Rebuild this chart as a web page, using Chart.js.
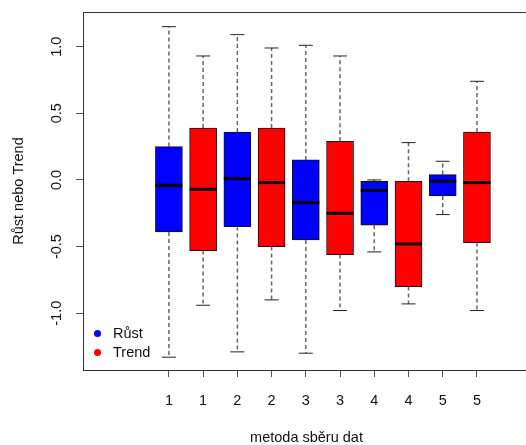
<!DOCTYPE html>
<html>
<head>
<meta charset="utf-8">
<script src="https://cdn.jsdelivr.net/npm/chart.js@4"></script>
<style>
    html, body { margin: 0; padding: 0; background: #fff; overflow: hidden; }
    #wrap { position: relative; width: 540px; height: 445px; }
    #legend { position: absolute; left: 90px; top: 324px; font: 14.5px 'Liberation Sans', Arial, sans-serif; color: #111; }
    #legend div { height: 19px; line-height: 19px; white-space: nowrap; }
    #legend span { display: inline-block; width: 7px; height: 7px; border-radius: 50%; margin: 0 12px 1px 4px; vertical-align: middle; }
</style>
</head>
<body>
<div id="wrap">
    <canvas id="boxChart" width="540" height="445"></canvas>
    <div id="legend"></div>
</div>
<script>
// box order: Růst / Trend for each method 1..5
const tickLabels = ['1', '1', '2', '2', '3', '3', '4', '4', '5', '5'];
const seriesNames = ['Růst', 'Trend'];
const seriesColors = ['#0000ff', '#ff0000'];

const whiskerLow  = [-1.33, -0.94, -1.29, -0.90, -1.30, -0.98, -0.54, -0.93, -0.26, -0.98];
const q1          = [-0.39, -0.53, -0.35, -0.50, -0.45, -0.56, -0.34, -0.80, -0.12, -0.47];
const medians     = [-0.04, -0.07,  0.01, -0.02, -0.17, -0.25, -0.08, -0.48, -0.01, -0.02];
const q3          = [ 0.25,  0.39,  0.36,  0.39,  0.15,  0.29, -0.01, -0.01,  0.04,  0.36];
const whiskerHigh = [ 1.15,  0.93,  1.09,  0.99,  1.01,  0.93,  0.00,  0.28,  0.14,  0.74];

const yTicks = [-1.0, -0.5, 0.0, 0.5, 1.0];

const positions = tickLabels.map((_, i) => i + 1);
const boxColors = positions.map((_, i) => seriesColors[i % 2]);

// dashed whiskers, split into separate segments by null points
const whiskerSegments = [];
positions.forEach((x, i) => {
    whiskerSegments.push({x: x, y: q3[i]}, {x: x, y: whiskerHigh[i]}, {x: x, y: null});
    whiskerSegments.push({x: x, y: q1[i]}, {x: x, y: whiskerLow[i]}, {x: x, y: null});
});

// frame around the plot region, like R's box()
const frame = {
    id: 'frame',
    afterDraw(chart) {
        const {ctx, chartArea: a} = chart;
        ctx.save();
        ctx.strokeStyle = '#333';
        ctx.lineWidth = 1;
        ctx.strokeRect(Math.round(a.left) + 0.5, Math.round(a.top) + 0.5,
            Math.round(a.right - a.left), Math.round(a.bottom - a.top));
        ctx.restore();
    }
};

Chart.defaults.font.family = "'Liberation Sans', Arial, sans-serif";
Chart.defaults.font.size = 14.5;
Chart.defaults.color = '#111';

const ctx = document.getElementById('boxChart').getContext('2d');
new Chart(ctx, {
    type: 'bar',
    data: {
        datasets: [
            {
                type: 'scatter',
                data: positions.map((x, i) => ({x: x, y: medians[i]})),
                pointStyle: 'line',
                radius: 13.5,
                borderWidth: 3,
                borderColor: '#000',
                order: 0
            },
            {
                type: 'scatter',
                data: positions.flatMap((x, i) => [{x: x, y: whiskerLow[i]}, {x: x, y: whiskerHigh[i]}]),
                pointStyle: 'line',
                radius: 7,
                borderWidth: 1,
                borderColor: '#222',
                order: 1
            },
            {
                type: 'bar',
                data: positions.map((x, i) => ({x: x, y: [q1[i], q3[i]]})),
                backgroundColor: boxColors,
                borderColor: '#111',
                borderWidth: 1,
                borderSkipped: false,
                barThickness: 27,
                order: 2
            },
            {
                type: 'line',
                data: whiskerSegments,
                borderColor: '#666',
                borderWidth: 1.5,
                borderDash: [4, 3],
                pointRadius: 0,
                spanGaps: false,
                order: 3
            }
        ]
    },
    options: {
        responsive: false,
        animation: false,
        layout: {
            autoPadding: false,
            padding: {left: 0, top: 12, right: 10, bottom: 0}
        },
        plugins: {
            legend: {display: false},
            tooltip: {enabled: false}
        },
        scales: {
            x: {
                type: 'linear',
                min: -1.51,
                max: 11.55,
                offset: false,
                afterFit: (scale) => {
                    scale.height = 75;
                    scale.paddingLeft = 0;
                    scale.paddingRight = 0;
                },
                afterBuildTicks: (scale) => { scale.ticks = positions.map(v => ({value: v})); },
                grid: {
                    offset: false,
                    drawOnChartArea: false,
                    drawTicks: true,
                    tickLength: 7,
                    color: '#555'
                },
                border: {display: false},
                ticks: {
                    padding: 15,
                    maxRotation: 0,
                    callback: (value) => tickLabels[value - 1]
                },
                title: {
                    display: true,
                    text: 'metoda sběru dat',
                    font: {size: 14.5, lineHeight: 1},
                    padding: {top: 0, bottom: 0}
                }
            },
            y: {
                type: 'linear',
                min: -1.426,
                max: 1.26,
                afterFit: (scale) => {
                    scale.width = 83;
                    scale.paddingTop = 0;
                    scale.paddingBottom = 0;
                },
                afterBuildTicks: (scale) => { scale.ticks = yTicks.map(v => ({value: v})); },
                grid: {
                    drawOnChartArea: false,
                    drawTicks: true,
                    tickLength: 7,
                    color: '#555'
                },
                border: {display: false},
                ticks: {
                    minRotation: 90,
                    maxRotation: 90,
                    crossAlign: 'center',
                    padding: 7,
                    callback: (value) => value.toFixed(1)
                },
                title: {
                    display: true,
                    text: 'Růst nebo Trend',
                    padding: {top: 10, bottom: 0}
                }
            }
        }
    },
    plugins: [frame]
});

// legend inside the plot, bottom left
document.getElementById('legend').innerHTML = seriesNames
    .map((name, i) => `<div><span style="background:${seriesColors[i]}"></span>${name}</div>`)
    .join('');
</script>
</body>
</html>
